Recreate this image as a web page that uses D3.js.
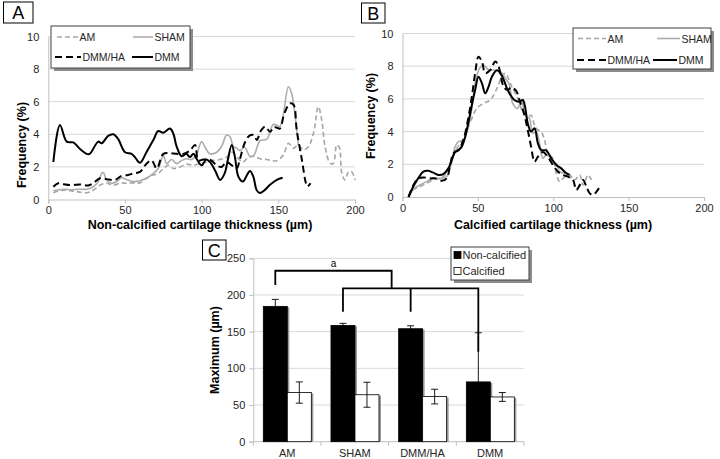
<!DOCTYPE html>
<html><head><meta charset="utf-8">
<script src="https://cdn.jsdelivr.net/npm/d3@7"></script>
<style>body{margin:0;background:#fff}svg{display:block}</style>
</head><body>
<svg id="c" width="720" height="459"></svg>
<script>
// ---------- Panel A: Non-calcified cartilage thickness ----------
const aAM_x = [3.3,6.5,10.9,15.2,19.6,25,29.3,33.7,38,42.4,46.7,51,55.4,59.8,64,68.5,71.7,75,78.3,81.5,85.9,90.2,94.6,98.9,103.3,107.6,112,116.3,120,123,127,130,134,138,142.5,146,149,153.3,156.6,159.8,163,166.3,169.6,172.9,176.1,178.3,180.5,183.8,185.9,188.1,189.8,191.4,193.5,195.7,197.9,200];
const aAM_y = [0.41,0.53,0.57,0.53,0.47,0.41,0.57,0.88,1.0,0.88,1.0,1.0,1.02,1.02,1.3,1.5,1.6,1.9,2.1,1.9,2.0,2.17,2.1,2.2,2.3,2.4,2.45,2.6,2.9,2.6,2.3,2.55,2.65,2.5,2.45,2.38,2.38,2.73,3.45,3.14,3.35,3.04,3.24,4.06,5.7,4.88,3.24,2.22,2.22,3.35,3.2,1.6,1.2,1.7,1.7,1.2];
const aSHAM_x = [3.3,6.5,10.9,15.2,19.6,25,29.3,32.6,34.8,35.9,38,41.3,44.6,47.8,51,55.4,59.8,64,68.5,71.7,75,77.2,80.4,83.7,87,90.2,93.5,96.7,100,102,105.4,109.8,113,116.3,118.5,120.7,122.8,125,128,131.5,134,138,142.5,146.7,150,151,153,156.6,158.7,161,163];
const aSHAM_y = [0.53,0.6,0.63,0.6,0.63,0.63,0.78,1.1,1.6,1.65,1.2,1.0,1.1,1.33,1.23,1.1,1.15,1.3,1.6,1.9,2.7,2.2,2.45,2.2,2.4,2.5,2.45,2.8,3.55,3.25,2.8,2.9,3.25,3.95,3.85,3.25,3.15,3.0,3.2,2.65,2.7,3.6,3.7,4.6,4.5,4.47,5.08,6.92,6.5,5.1,3.35];
const aDMMHA_x = [3.3,6.5,10.9,15.2,20.7,26,29.3,33.7,38,43.5,47.8,52,55.4,59.8,64,67.4,70.7,75,79.3,83.7,88,92.4,95.7,97.8,101,105.4,109.8,113,116.3,119.6,122.8,125,128,131,134,136,138.5,141.4,144.6,147,149,151,154,157.6,160,162,165.4,168,169,171];
const aDMMHA_y = [0.78,1.0,0.92,0.88,0.92,0.86,1.0,1.3,1.25,1.2,1.45,1.5,1.6,1.7,2.2,2.4,1.9,2.8,2.85,2.8,2.8,3.0,3.35,2.4,2.45,2.45,2.1,2.0,2.3,2.1,1.9,2.5,3.45,3.9,3.95,3.65,4.2,4.47,4.15,4.45,4.4,4.35,5.3,5.9,5.8,4.26,2.42,1.0,0.8,1.0];
const aDMM_x = [3.3,7.6,12,16.3,20.7,25,27,32.6,34.8,39,42.4,45.6,50,54.3,56.5,59.8,64,68.5,71.7,75,79.3,81.5,83.7,87,90,92.4,94.6,96.7,100,103,105.4,108.7,112,115,117,119.6,121.7,124,127,129,131.5,133.7,135.9,138,141,144.6,149,152.8];
const aDMM_y = [2.3,4.57,3.55,3.5,3.1,2.8,2.8,3.55,3.45,3.9,4.0,3.7,2.9,2.8,2.6,2.25,2.9,3.65,4.2,4.1,4.35,4.05,3.25,2.65,2.8,2.6,2.8,2.5,2.1,2.45,2.3,1.8,1.2,1.6,2.4,3.35,2.6,1.4,1.1,1.4,1.75,1.4,0.57,0.4,0.57,0.9,1.2,1.33];

// ---------- Panel B: Calcified cartilage thickness ----------
const bAM_x = [4,7.1,11.6,16,20.4,24.9,29.3,32.7,36,39.3,42.7,46,49.3,53.8,58.2,62.7,66,68.2,72,76.4,79.8,83.1,85.3,87.6,89.8,92,94.2,96.4,99.8,102,104.2,107.6,110.9,114.2,117.6,119.8,123.1,125.3];
const bAM_y = [0,0.43,0.63,0.84,1.04,1.14,1.45,2.26,2.98,3.38,4.1,4.81,5.42,5.73,5.93,6.65,7.36,7.57,6.85,6.03,5.22,4.91,5.0,4.4,4.1,4.0,3.49,2.67,2.37,1.45,0.94,1.24,1.35,1.04,1.35,0.73,1.35,1.04];
const bSHAM_x = [4,7.1,11.6,16,20.4,24.9,29.3,32.7,34.9,37.1,40.4,43.8,46,48.2,51.1,53.8,57.1,60.4,64.9,68.2,70.9,73.1,76.4,78.7,82,84.2,86.4,88.7,90.9,93.1,95.3,97.6,99.8,102,104.2,107.6,109.8,112];
const bSHAM_y = [0,0.47,0.73,0.94,1.14,1.14,1.24,2.16,3.08,3.38,3.49,4.3,5.42,6.95,7.87,8.07,7.77,7.77,7.66,7.26,6.85,5.73,5.42,5.93,4.91,4.81,3.9,4.0,3.28,2.37,2.57,2.46,2.06,2.06,1.55,1.45,1.45,1.14];
const bDMMHA_x = [4,7.1,10.4,13.8,18.2,22,26,29.3,31.6,33.8,37.1,40.4,43.8,46,48.2,50.4,52.7,54.9,58.2,61.6,63.8,67.1,69.8,72,75.3,77.6,80.9,83.1,85.3,87.6,89.8,93.1,96.4,99.8,103.1,106.4,109.8,113.1,115.3,117.6,119.8,122,124.2,126.4,128.7,131.6];
const bDMMHA_y = [0,0.7,1.14,1.2,1.14,1.14,1.0,1.14,1.96,2.67,2.87,3.49,4.91,6.13,7.57,8.58,8.28,7.57,7.77,8.28,7.97,6.75,6.54,6.7,6.5,5.93,5.0,4.1,3.08,2.16,2.46,2.75,2.46,1.96,1.55,1.35,1.24,1.04,0.43,0.73,1.04,0.63,0.22,0.12,0.33,0.73];
const bDMM_x = [4,7.1,10.4,13.8,17.1,20.4,23.8,27.1,30.4,32.7,34.9,37.1,39.3,41.6,43.8,46,48.2,50.4,52.7,54.9,57.1,59.3,62.7,66,69.8,74.2,77.6,79.8,81.3,83.1,85.3,87.6,89.8,92,95.3,98.7,102,105.3,108.7,110.9];
const bDMM_y = [0,0.63,1.14,1.55,1.6,1.49,1.35,1.4,1.75,2.26,2.77,2.87,3.08,3.69,4.6,5.63,6.54,7.36,6.95,6.34,6.75,7.36,7.75,7.4,6.54,5.93,5.83,5.93,5.52,4.5,4.0,4.2,3.28,2.87,2.85,2.37,1.96,1.75,1.45,1.35];

const lineXTicks = [0,50,100,150,200];
const lineYTicks = [0,2,4,6,8,10];

// ---------- Panel C: Maximum thickness ----------
const groups = ["AM","SHAM","DMM/HA","DMM"];
const layers = ["Non-calcified","Calcified"];
const nonCalcMean = [184.5,158.5,154,81.5];
const nonCalcErr  = [9.5,2.8,4,67];
const calcMean    = [67,64,61.5,61];
const calcErr     = [14.5,17,10,6];
const barYTicks   = [0,50,100,150,200,250];
// significance bracket (values in µm)
const bracketTop = 233, bracketAMLeg = 213.5, bracketMid = 209;
const bracketLegEnds = [177,177,122.6]; // SHAM, DMM/HA, DMM

const FONT = "'Liberation Sans', Arial, Helvetica, sans-serif";
const svg = d3.select("#c").style("font-family", FONT);

const styles = {
  "AM":     {stroke:"#a6a6a6", dash:"5,3", w:1.6},
  "SHAM":   {stroke:"#acacac", dash:null,  w:1.6},
  "DMM/HA": {stroke:"#000",    dash:"7,4", w:2},
  "DMM":    {stroke:"#000",    dash:null,  w:2}
};

function panelLabel(x, y, w, h, t){
  svg.append("rect").attr("x",x).attr("y",y).attr("width",w).attr("height",h)
    .attr("fill","#fff").attr("stroke","#000").attr("stroke-width",1);
  svg.append("text").attr("x",x+w/2).attr("y",y+h/2+6.5).attr("text-anchor","middle")
    .attr("font-size",18).attr("fill","#000").text(t);
}

function linePanel(cfg){
  const x = d3.scaleLinear([0,200], cfg.xr);
  const y = d3.scaleLinear([0,10], cfg.yr);
  const g = svg.append("g");
  g.selectAll("line.grid").data(lineYTicks.slice(1)).join("line")
    .attr("x1",x(0)).attr("x2",x(200)).attr("y1",d=>y(d)).attr("y2",d=>y(d))
    .attr("stroke","#d9d9d9").attr("stroke-width",1);
  const ax = g.append("g").attr("transform",`translate(0,${y(0)})`)
    .call(d3.axisBottom(x).tickValues(lineXTicks).tickSize(4).tickPadding(3));
  const ay = g.append("g").attr("transform",`translate(${x(0)},0)`)
    .call(d3.axisLeft(y).tickValues(lineYTicks).tickSize(0).tickPadding(9));
  [ax,ay].forEach(a=>{
    a.selectAll("path.domain").attr("stroke","#bfbfbf");
    a.selectAll(".tick line").attr("stroke","#bfbfbf");
    a.selectAll("text").attr("font-size",11).attr("fill","#262626").attr("font-family",FONT);
  });
  const line = d3.line().x(d=>x(d[0])).y(d=>y(d[1])).curve(d3.curveCatmullRom.alpha(0.5));
  cfg.series.forEach(s=>{
    const st = styles[s.name];
    g.append("path").datum(d3.zip(s.xs, s.ys)).attr("d", line)
      .attr("fill","none").attr("stroke",st.stroke).attr("stroke-width",st.w)
      .attr("stroke-dasharray",st.dash).attr("stroke-linejoin","round");
  });
  g.append("text").attr("x",cfg.xtx).attr("y",cfg.xty).attr("text-anchor","middle")
    .attr("font-size",12.5).attr("font-weight","bold").attr("fill","#000").text(cfg.xtitle);
  g.append("text").attr("transform",`translate(${cfg.ytx},${cfg.yty}) rotate(-90)`)
    .attr("text-anchor","middle").attr("font-size",12.5).attr("font-weight","bold")
    .attr("fill","#000").text("Frequency (%)");
  const L = cfg.legend;
  g.append("rect").attr("x",L.x+3).attr("y",L.y+3).attr("width",L.w).attr("height",L.h).attr("fill","#8c8c8c");
  g.append("rect").attr("x",L.x).attr("y",L.y).attr("width",L.w).attr("height",L.h)
    .attr("fill","#fff").attr("stroke","#404040").attr("stroke-width",1);
  L.items.forEach(it=>{
    const st = styles[it.name];
    g.append("line").attr("x1",it.x1).attr("x2",it.x2).attr("y1",it.y).attr("y2",it.y)
      .attr("stroke",st.stroke).attr("stroke-width",st.w).attr("stroke-dasharray",st.dash);
    g.append("text").attr("x",it.x2+1.5).attr("y",it.y+4).attr("font-size",10.5)
      .attr("fill","#262626").text(it.name);
  });
}

linePanel({
  xr:[48.3,355], yr:[199.5,36.5],
  series:[
    {name:"AM", xs:aAM_x, ys:aAM_y},
    {name:"SHAM", xs:aSHAM_x, ys:aSHAM_y},
    {name:"DMM/HA", xs:aDMMHA_x, ys:aDMMHA_y},
    {name:"DMM", xs:aDMM_x, ys:aDMM_y}
  ],
  xtitle:"Non-calcified cartilage thickness (µm)", xtx:200, xty:229,
  ytx:26, yty:145,
  legend:{x:51,y:26,w:139,h:42,items:[
    {name:"AM",x1:57,x2:78,y:37},
    {name:"SHAM",x1:133,x2:153,y:37},
    {name:"DMM/HA",x1:55,x2:81,y:57},
    {name:"DMM",x1:132,x2:153,y:57}
  ]}
});

linePanel({
  xr:[402.5,704], yr:[197,33.5],
  series:[
    {name:"AM", xs:bAM_x, ys:bAM_y},
    {name:"SHAM", xs:bSHAM_x, ys:bSHAM_y},
    {name:"DMM/HA", xs:bDMMHA_x, ys:bDMMHA_y},
    {name:"DMM", xs:bDMM_x, ys:bDMM_y}
  ],
  xtitle:"Calcified cartilage thickness (µm)", xtx:553, xty:229,
  ytx:375, yty:116,
  legend:{x:573,y:28,w:138,h:41,items:[
    {name:"AM",x1:578,x2:606,y:38.5},
    {name:"SHAM",x1:657,x2:680,y:38.5},
    {name:"DMM/HA",x1:577,x2:606,y:60},
    {name:"DMM",x1:653,x2:677,y:60}
  ]}
});

panelLabel(3.5,2,29.5,21,"A");
panelLabel(361.5,3,23.5,20,"B");

// ---------- Panel C ----------
(function(){
  const x0 = d3.scaleBand(groups,[253.3,524]).padding(0);
  const x1 = d3.scaleBand(layers,[10,58]).padding(0);
  const y = d3.scaleLinear([0,250],[441.7,258.3]);
  const g = svg.append("g");
  g.selectAll("line.grid").data(barYTicks.slice(1)).join("line")
    .attr("x1",x0.range()[0]).attr("x2",x0.range()[1]).attr("y1",d=>y(d)).attr("y2",d=>y(d))
    .attr("stroke","#d9d9d9");
  const ay = g.append("g").attr("transform",`translate(${x0.range()[0]},0)`)
    .call(d3.axisLeft(y).tickValues(barYTicks).tickSize(4).tickPadding(4));
  ay.selectAll("path.domain").attr("stroke","#bfbfbf");
  ay.selectAll(".tick line").attr("stroke","#bfbfbf");
  ay.selectAll("text").attr("font-size",11).attr("fill","#262626").attr("font-family",FONT);
  g.append("line").attr("x1",x0.range()[0]).attr("x2",x0.range()[1]).attr("y1",y(0)).attr("y2",y(0)).attr("stroke","#bfbfbf");
  const bounds = groups.map(d=>x0(d)).concat([x0.range()[1]]);
  g.selectAll("line.xt").data(bounds).join("line")
    .attr("x1",d=>d).attr("x2",d=>d).attr("y1",y(0)).attr("y2",y(0)+4).attr("stroke","#bfbfbf");
  g.selectAll("text.xl").data(groups).join("text")
    .attr("x",d=>x0(d)+x0.bandwidth()/2).attr("y",457).attr("text-anchor","middle")
    .attr("font-size",11).attr("fill","#262626").text(d=>d);

  const bars = [];
  groups.forEach((gname,i)=>{
    bars.push({g:gname,layer:"Non-calcified",v:nonCalcMean[i],e:nonCalcErr[i]});
    bars.push({g:gname,layer:"Calcified",v:calcMean[i],e:calcErr[i]});
  });
  const bx = d=>x0(d.g)+x1(d.layer);
  g.selectAll("rect.sh").data(bars).join("rect")
    .attr("x",d=>bx(d)+2).attr("y",d=>y(d.v)+1).attr("width",x1.bandwidth())
    .attr("height",d=>y(0)-y(d.v)-1).attr("fill","#9a9a9a");
  g.selectAll("rect.bar").data(bars).join("rect")
    .attr("x",bx).attr("y",d=>y(d.v)).attr("width",x1.bandwidth())
    .attr("height",d=>y(0)-y(d.v))
    .attr("fill",d=>d.layer==="Non-calcified"?"#000":"#fff")
    .attr("stroke","#000").attr("stroke-width",0.8);
  const eg = g.selectAll("g.err").data(bars).join("g")
    .attr("transform",d=>`translate(${bx(d)+x1.bandwidth()/2},0)`);
  eg.append("line").attr("y1",d=>y(d.v-d.e)).attr("y2",d=>y(d.v+d.e)).attr("stroke","#000").attr("stroke-width",0.9);
  eg.append("line").attr("x1",-3.5).attr("x2",3.5).attr("y1",d=>y(d.v+d.e)).attr("y2",d=>y(d.v+d.e)).attr("stroke","#000").attr("stroke-width",0.9);
  eg.append("line").attr("x1",-3.5).attr("x2",3.5).attr("y1",d=>y(d.v-d.e)).attr("y2",d=>y(d.v-d.e)).attr("stroke","#000").attr("stroke-width",0.9);

  const bc = name => x0(name)+x1("Non-calcified")+x1.bandwidth()/2;
  const upperRight = x0("DMM/HA")+3;
  const p1 = d3.path();
  p1.moveTo(bc("AM"), y(bracketAMLeg)); p1.lineTo(bc("AM"), y(bracketTop));
  p1.lineTo(upperRight, y(bracketTop)); p1.lineTo(upperRight, y(bracketMid));
  const p2 = d3.path();
  p2.moveTo(bc("SHAM"), y(bracketLegEnds[0])); p2.lineTo(bc("SHAM"), y(bracketMid));
  p2.lineTo(bc("DMM"), y(bracketMid)); p2.lineTo(bc("DMM"), y(bracketLegEnds[2]));
  p2.moveTo(bc("DMM/HA"), y(bracketMid)); p2.lineTo(bc("DMM/HA"), y(bracketLegEnds[1]));
  [p1,p2].forEach(p=>g.append("path").attr("d",p.toString()).attr("fill","none")
    .attr("stroke","#000").attr("stroke-width",1.8));
  g.append("text").attr("x",(bc("AM")+upperRight)/2).attr("y",y(bracketTop)-4)
    .attr("text-anchor","middle").attr("font-size",10).attr("fill","#000").text("a");

  g.append("text").attr("transform","translate(219,350) rotate(-90)").attr("text-anchor","middle")
    .attr("font-size",12.5).attr("font-weight","bold").attr("fill","#000").text("Maximum (µm)");

  g.append("rect").attr("x",454).attr("y",250).attr("width",78).attr("height",33).attr("fill","#8c8c8c");
  g.append("rect").attr("x",451).attr("y",247).attr("width",78).attr("height",33)
    .attr("fill","#fff").attr("stroke","#404040");
  layers.forEach((l,i)=>{
    const yy = 255 + i*16;
    g.append("rect").attr("x",454).attr("y",yy-3.5).attr("width",7).attr("height",7)
      .attr("fill",i===0?"#000":"#fff").attr("stroke","#000").attr("stroke-width",0.8);
    g.append("text").attr("x",462.5).attr("y",yy+4).attr("font-size",11).attr("fill","#262626").text(l);
  });
})();
panelLabel(202.5,240,23.5,20,"C");
</script>
</body></html>
